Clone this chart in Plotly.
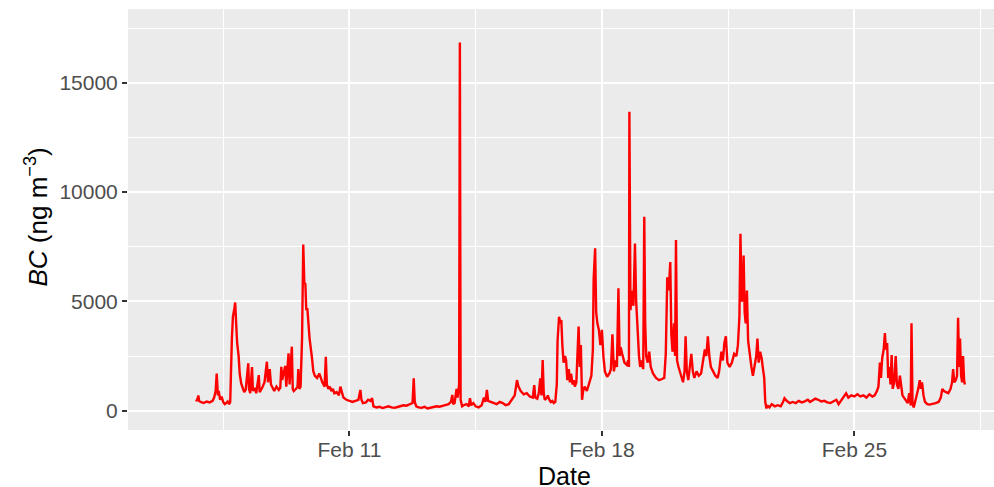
import pandas as pd
import plotly.graph_objects as go

# ---- data ----
start_time = "2022-02-06 18:00"
hours = [
    0, 1, 1.5, 2, 3, 5, 7, 9, 11, 12, 13, 13.7, 14.5, 15, 16, 17, 18, 19, 20, 21, 22, 22.7,
    23.8, 24.5, 25.5, 26, 26.5, 27.3, 28.3, 29, 30, 31, 32, 33, 34.7, 35.2, 36, 37.2, 37.8, 39, 40,
    41.7, 42.3, 43.5, 44, 45.5, 47.1, 47.8, 49, 49.8, 51, 52, 53.5, 55, 56, 56.7, 57.3, 58.5, 59.3,
    60, 61.5, 62.2, 63.7, 64.3, 65, 66.5, 67.5, 68, 68.7, 69.5, 70.5, 71.3, 72, 72.7, 73.3, 74, 74.7,
    75.5, 77, 78, 79, 80.5, 82, 83, 84, 85.5, 86.3, 87, 88, 89, 90, 91, 92, 93.5, 95, 96, 97, 98,
    100, 102, 104, 106, 108, 109.3, 110, 111, 113, 114.5, 116, 117.1, 118,
    120, 122, 124, 126, 128, 130, 132, 134, 136, 138, 140, 142, 144, 144.8, 145.5, 146.5, 148, 150,
    152, 154, 156, 158, 160, 162, 164, 166, 168, 169.5, 170.5, 171, 172, 173.3, 174, 175, 175.5,
    176, 177,
    178, 180, 181.5, 182.2, 183, 184.5, 186, 188, 190, 191.5, 192.5, 193.5, 194.3, 196, 198, 200,
    202, 204, 206, 208, 210, 212, 213.5, 214.5, 216, 218, 220, 222, 224, 225, 225.7, 227, 228, 229,
    229.8, 230.6, 231.3, 232, 233.5, 234, 235, 236, 237, 238, 239, 240, 240.5, 241.5, 242.3, 243,
    243.7, 244.5, 245.5, 246.2, 247, 248, 248.7, 249.5, 250.5, 251.3, 252, 253, 254.5, 255.3, 256,
    256.8, 257.5, 258.5, 260, 261.5, 263, 264, 264.5, 265.5, 266.2, 267, 268, 269, 270, 271, 272,
    273.5, 275, 276, 277, 278, 279, 280, 281, 281.8, 282.5, 283.5, 285, 286.5, 287.5, 288, 288.3,
    289, 290, 291, 292, 292.8, 293.8, 294.7, 295.5, 296.5, 297.5, 298.2, 298.8, 299.5, 300.5, 301.5,
    302.5, 304, 306, 308, 310, 311.5, 312.5, 313.5, 314.5, 315.5, 316.2, 317, 318, 318.7, 319.3,
    320, 321, 322.5, 324, 325, 325.7, 326.5, 327.5, 328.5, 329.5, 330.5, 331.5, 333, 334.5, 336,
    337.5, 338.5, 339.5, 340.5, 341.5, 342.5, 344, 345.5, 347, 348, 349.5, 350.5, 351.5, 352.5,
    353.5, 355, 356.5, 358, 359.5, 360.5, 361.5, 362.2, 363, 363.7, 364.3, 365, 365.7, 366.5,
    367.3, 368.3, 369.5, 370.5, 371.5, 372.7, 373.5, 374.3, 375.3, 376.3, 377, 378, 378.7, 379.5,
    380, 381.5, 383, 385, 387, 389, 390.5, 391.5, 393, 395, 397, 399, 401, 403, 405, 407, 408.5,
    410, 412, 414, 416, 418, 420, 422, 424, 426, 427.5, 429, 431, 432.5, 434, 436, 438, 440, 442,
    444, 446, 448, 450, 451.5, 453, 454, 455, 455.7, 456.5, 457.5, 458.3, 459, 459.8, 460.5, 461.3,
    462, 462.8, 463.5, 464.5, 465.5, 466.3, 467.3, 468.3, 469, 470, 471, 472, 473.5, 474.5, 475.5,
    476, 476.7, 477.5, 478.5, 479.5, 480.5, 481.5, 482.3, 483, 484, 485, 486.5, 488, 490, 492, 494,
    495.5, 496.5, 497.5, 499, 500.5, 502, 503, 503.7, 504.5, 505.5, 506.3, 507, 507.7, 508.3, 509,
    509.7, 510.3, 511, 511.5,
]
bc = [
    420, 550, 700, 450, 400, 350, 420, 380, 450, 600, 900, 1700, 700, 900, 500, 650, 400, 300, 350, 420, 300, 400,
    3300, 4300, 4700, 4950, 4200, 3100, 2500, 1700, 1250, 1000, 850, 950, 2170, 1000, 800, 2000, 900, 1050, 800,
    1630, 850, 1000, 1050, 1300, 2240, 1300, 1900, 1200, 1000, 900, 1100, 950, 1050, 2010, 1400, 1900, 2050,
    1100, 2630, 1200, 2930, 1000, 900, 1000, 1100, 1900, 1000, 1100, 3300, 7600, 5850, 5800, 4600, 4700, 3900,
    3300, 2470, 1800, 1600, 1500, 1700, 1450, 1300, 1100, 2470, 1200, 1000, 1100, 900, 1000, 800, 850, 700, 1100, 800, 600,
    500, 450, 400, 450, 500, 950, 500, 350, 380, 500, 450, 570, 200,
    150, 180, 120, 160, 200, 150, 130, 170, 200, 250, 230, 300, 350, 1480, 400, 200, 150, 130,
    180, 100, 150, 170, 200, 180, 220, 250, 300, 400, 720, 300, 350, 1000, 600, 1200, 16840,
    500, 200,
    250, 300, 200, 570, 250, 350, 200, 150, 250, 600, 400, 950, 450, 400, 350, 300,
    400, 350, 250, 300, 500, 700, 1400, 1100, 900, 750, 800, 650, 600, 1175, 600, 550, 800, 1480,
    700, 2320, 800, 500, 600, 700, 500, 400, 450, 350, 400, 1200, 3200, 4300, 4000, 4150,
    3000, 2200, 2500, 2300, 1400, 1900, 1300, 1700, 1200, 1400, 1100, 1300, 3850, 2000, 3000,
    500, 900, 1100, 900, 1200, 1600, 2800, 6000, 7430, 4500, 4000, 3700, 3000, 3700, 2500, 1800,
    1550, 1700, 1900, 3500, 1800, 2300, 2000, 5600, 2500, 2900, 2600, 2200, 2100, 2300, 2000, 13680,
    4600, 5500, 4800, 7650, 5000, 3500, 2500, 2000, 2300, 1900, 8875, 4000, 2500, 2200, 2700,
    2000, 1700, 1500, 1400, 1450, 1500, 2600, 6100, 5500, 6800, 3500, 2700, 4000, 2500, 7810,
    2300, 2000, 1600, 1300, 1800, 3400, 1800, 1400, 2000, 2600, 1800, 1500, 1800, 1600, 1700,
    2300, 2800, 2500, 3400, 2500, 2000, 1800, 1600, 1500, 1800, 2700, 2300, 3100, 3400,
    2200, 2000, 2200, 2600, 2500, 3000, 4300, 8100, 5000, 5100, 7100, 4500, 4000, 5500,
    3200, 2500, 2000, 1600, 2000, 2500, 3300, 2200, 2700, 2400, 2000, 1500, 400, 100,
    250, 150, 300, 200, 250, 200, 400, 570, 450, 350, 400, 350, 450, 380, 430, 500, 400,
    450, 550, 500, 420, 450, 380, 350, 420, 500, 300, 450, 600, 800, 600, 700, 650, 750, 650,
    700, 600, 750, 650, 700, 900, 1100, 2200, 1500, 2400, 2800, 3550, 2800, 3100, 1500, 2000,
    1200, 2550, 1000, 1300, 2500, 1200, 1000, 1600, 1200, 700, 600, 500, 350, 800, 250,
    4000, 300, 150, 400, 700, 1000, 1400, 1000, 1300, 700, 400, 300, 280, 300, 350, 400,
    600, 1000, 900, 850, 800, 1000, 1300, 1900, 1300, 1400, 1600, 4250, 2000, 3300, 1600,
    1300, 2500, 1400, 1200,
]
x_tick_dates = ["2022-02-11", "2022-02-18", "2022-02-25"]
x_tick_labels = ["Feb 11", "Feb 18", "Feb 25"]
x_minor_dates = ["2022-02-07 12:00", "2022-02-14 12:00", "2022-02-21 12:00", "2022-02-28 12:00"]
y_tick_vals = [0, 5000, 10000, 15000]
y_minor_vals = [2500, 7500, 12500, 17500]
x_title = "Date"
y_title = "<i>BC</i> (ng m<sup>−3</sup>)"

times = pd.Timestamp(start_time) + pd.to_timedelta(hours, unit="h")

fig = go.Figure(
    go.Scatter(x=times, y=bc, mode="lines",
               line=dict(color="#FF0000", width=2.4), hoverinfo="skip")
)

axis_common = dict(
    showline=False, zeroline=False, automargin=False,
    showgrid=True, gridcolor="white", gridwidth=2,
    ticks="outside", ticklen=5, tickwidth=2, tickcolor="#333333",
    tickfont=dict(size=21, color="#4D4D4D"),
)

fig.update_layout(
    width=994, height=487,
    margin=dict(l=128, r=0, t=9, b=57),
    paper_bgcolor="white", plot_bgcolor="#EBEBEB",
    showlegend=False,
    font=dict(family="Liberation Sans, Arial, sans-serif", color="black"),
)
fig.update_xaxes(
    **axis_common,
    type="date",
    range=["2022-02-04 20:41", "2022-02-28 20:54"],
    tickmode="array", tickvals=x_tick_dates, ticktext=x_tick_labels,
    ticklabelstandoff=-4,
    minor=dict(tickvals=x_minor_dates, showgrid=True, gridcolor="white", gridwidth=1, ticks=""),
)
fig.update_yaxes(
    **axis_common,
    range=[-883, 18378],
    tickmode="array", tickvals=y_tick_vals, ticktext=[str(v) for v in y_tick_vals],
    minor=dict(tickvals=y_minor_vals, showgrid=True, gridcolor="white", gridwidth=1, ticks=""),
)

fig.add_annotation(text=x_title, xref="paper", yref="paper", x=0.5, y=0,
                   xanchor="center", yanchor="middle", xshift=3, yshift=-46,
                   showarrow=False, font=dict(size=25, color="black"))
fig.add_annotation(text=y_title, xref="paper", yref="paper", x=0, y=0.5,
                   xanchor="center", yanchor="middle", xshift=-91, yshift=2,
                   textangle=-90, showarrow=False, font=dict(size=26, color="black"))

fig.write_html(
    "out.html",
    config={"displayModeBar": False},
    post_script="document.body.style.margin='0';document.body.style.overflow='hidden';",
)
